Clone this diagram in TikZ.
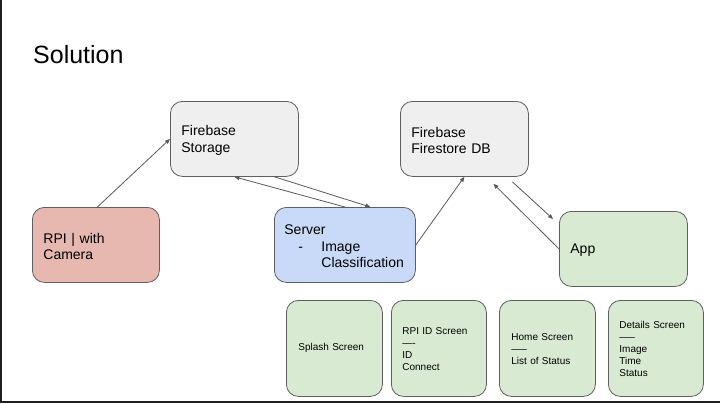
\documentclass[tikz,border=0pt]{standalone}
\usepackage{fontspec}
\setmainfont{Liberation Sans}
\usetikzlibrary{arrows.meta}
\definecolor{boxline}{HTML}{5F5F5F}
\definecolor{conn}{HTML}{595959}
\definecolor{framecol}{HTML}{1E1E1E}
\definecolor{grayfill}{HTML}{EFEFEF}
\definecolor{redfill}{HTML}{E6B8AF}
\definecolor{bluefill}{HTML}{C9DAF8}
\definecolor{greenfill}{HTML}{D9EAD3}
\newcommand{\bigstrut}{\rule{0pt}{13bp}}
\newcommand{\smallstrut}{\rule{0pt}{9bp}}
\begin{document}
\begin{tikzpicture}[x=1bp,y=-1bp,
  box/.style={draw=boxline, line width=0.8bp, rounded corners=12bp, anchor=north west,
    inner ysep=0pt, align=left},
  bigbox/.style={box, minimum height=75bp, inner xsep=11bp,
    font=\fontsize{14bp}{16.5bp}\selectfont},
  smallbox/.style={box, minimum height=96bp, inner xsep=11bp, text width=73bp,
    font=\fontsize{10bp}{12bp}\selectfont, fill=greenfill},
  conn/.style={draw=conn, line width=0.8bp, -{Triangle[length=5bp,width=4bp]}}
]
\useasboundingbox (0,0) rectangle (720,403);
\fill[white] (0,0) rectangle (720,403);
\fill[framecol] (0,0) rectangle (2,403);
\fill[framecol] (0,401) rectangle (720,403);

\node[anchor=base west, inner sep=0pt, font=\fontsize{25bp}{30bp}\selectfont] (title) at (33,63) {Solution};

\node[bigbox, fill=grayfill, text width=106bp] (storage) at (170,101) {\bigstrut Firebase\\Storage};
\node[bigbox, fill=grayfill, text width=106bp] (firestore) at (400,101) {\bigstrut Firebase\\Firestore DB};
\node[bigbox, fill=redfill, text width=105bp] (rpi) at (32,207) {\bigstrut RPI | with\\Camera};
\node[bigbox, fill=bluefill, text width=121bp, inner xsep=10bp] (server) at (274,207)
  {\bigstrut Server\\\makebox[37bp][l]{\hspace*{14bp}-}Image\\\hspace*{37bp}Classification};
\node[bigbox, fill=greenfill, text width=106bp] (app) at (559,211) {\bigstrut App};

\node[smallbox, inner xsep=12bp, text width=72bp] (splash) at (286,300) {Splash Screen};
\node[smallbox] (rpiid) at (391,300) {\smallstrut RPI ID Screen\\—-\\ID\\Connect};
\node[smallbox, inner xsep=12bp, text width=72bp] (home) at (499,300) {\smallstrut Home Screen\\—--\\List of Status};
\node[smallbox, text width=73bp] (details) at (608,300) {\smallstrut Details Screen\\—--\\Image\\Time\\Status};

\coordinate (fsin) at ([xshift=29bp,yshift=-7bp]firestore.south);
\coordinate (fsout) at ([xshift=48bp,yshift=-5bp]firestore.south);
\coordinate (appin) at ([xshift=-6bp,yshift=-8bp]app.north west);

\draw[conn] ([xshift=1.5bp]rpi.north) -- (storage.west);
\draw[conn] (server.north) -- (storage.south);
\draw[conn] ([xshift=40bp]storage.south) -- ([xshift=25.5bp]server.north);
\draw[conn] (server.east) -- (firestore.south);
\draw[conn] (app.west) -- (fsin);
\draw[conn] (fsout) -- (appin);
\end{tikzpicture}
\end{document}
